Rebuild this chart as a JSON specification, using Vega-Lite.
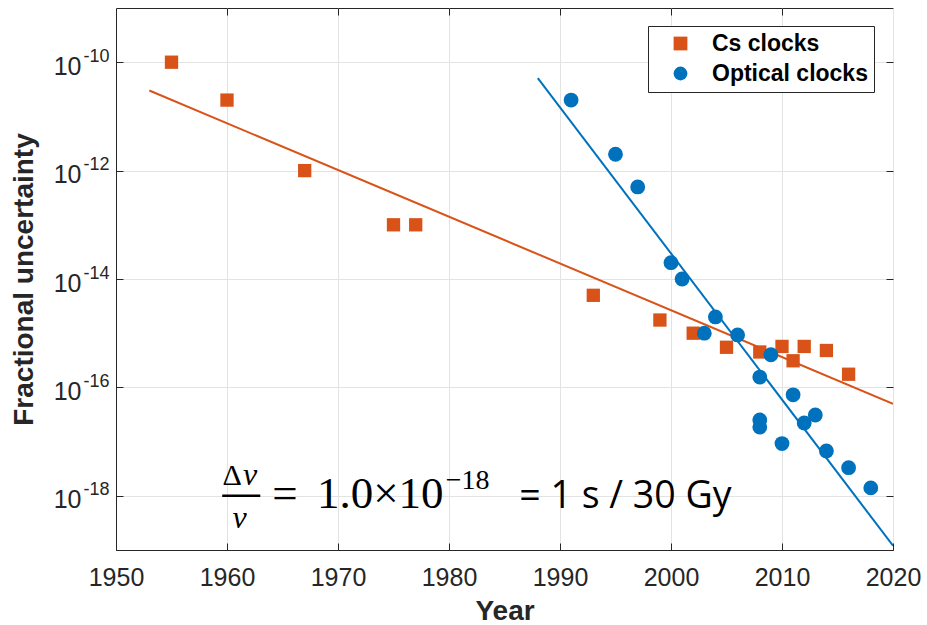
{
  "$schema": "https://vega.github.io/schema/vega-lite/v6.json",
  "width": 777,
  "height": 542,
  "autosize": {"type": "none"},
  "padding": {"left": 116, "top": 8, "right": 34, "bottom": 75},
  "background": "white",
  "config": {
    "view": {"stroke": "#262626", "strokeWidth": 1},
    "font": "Liberation Sans",
    "axis": {
      "labelFont": "Liberation Sans",
      "labelFontSize": 25,
      "labelColor": "#262626",
      "titleFont": "Liberation Sans",
      "titleFontSize": 28,
      "titleFontWeight": "bold",
      "titleColor": "#262626",
      "domainColor": "#262626",
      "domainWidth": 1,
      "tickColor": "#262626",
      "tickWidth": 1,
      "tickSize": -7,
      "gridColor": "#e3e3e3",
      "gridWidth": 1
    },
    "legend": {
      "orient": "none",
      "legendX": 532,
      "legendY": 18,
      "fillColor": "white",
      "strokeColor": "#262626",
      "padding": 6,
      "rowPadding": 6,
      "labelFont": "Liberation Sans",
      "labelFontSize": 23,
      "labelFontWeight": "bold",
      "labelColor": "black",
      "labelLimit": 400,
      "symbolSize": 190,
      "symbolOffset": 15,
      "labelOffset": 20,
      "symbolStrokeWidth": 0
    }
  },
  "datasets": {
    "cs": [
      {"series": "Cs clocks", "year": 1955, "value": 1e-10},
      {"series": "Cs clocks", "year": 1960, "value": 2e-11},
      {"series": "Cs clocks", "year": 1967, "value": 1e-12},
      {"series": "Cs clocks", "year": 1975, "value": 1e-13},
      {"series": "Cs clocks", "year": 1977, "value": 1e-13},
      {"series": "Cs clocks", "year": 1993, "value": 5e-15},
      {"series": "Cs clocks", "year": 1999, "value": 1.75e-15},
      {"series": "Cs clocks", "year": 2002, "value": 1e-15},
      {"series": "Cs clocks", "year": 2005, "value": 5.5e-16},
      {"series": "Cs clocks", "year": 2008, "value": 4.5e-16},
      {"series": "Cs clocks", "year": 2010, "value": 5.7e-16},
      {"series": "Cs clocks", "year": 2011, "value": 3.1e-16},
      {"series": "Cs clocks", "year": 2012, "value": 5.7e-16},
      {"series": "Cs clocks", "year": 2014, "value": 4.8e-16},
      {"series": "Cs clocks", "year": 2016, "value": 1.75e-16}
    ],
    "optical": [
      {"series": "Optical clocks", "year": 1991, "value": 2e-11},
      {"series": "Optical clocks", "year": 1995, "value": 2e-12},
      {"series": "Optical clocks", "year": 1997, "value": 5e-13},
      {"series": "Optical clocks", "year": 2000, "value": 2e-14},
      {"series": "Optical clocks", "year": 2001, "value": 1e-14},
      {"series": "Optical clocks", "year": 2003, "value": 1e-15},
      {"series": "Optical clocks", "year": 2004, "value": 2e-15},
      {"series": "Optical clocks", "year": 2006, "value": 9.3e-16},
      {"series": "Optical clocks", "year": 2008, "value": 1.55e-16},
      {"series": "Optical clocks", "year": 2008, "value": 2.5e-17},
      {"series": "Optical clocks", "year": 2008, "value": 1.85e-17},
      {"series": "Optical clocks", "year": 2009, "value": 4e-16},
      {"series": "Optical clocks", "year": 2010, "value": 9.2e-18},
      {"series": "Optical clocks", "year": 2011, "value": 7.3e-17},
      {"series": "Optical clocks", "year": 2012, "value": 2.2e-17},
      {"series": "Optical clocks", "year": 2013, "value": 3.1e-17},
      {"series": "Optical clocks", "year": 2014, "value": 6.7e-18},
      {"series": "Optical clocks", "year": 2016, "value": 3.3e-18},
      {"series": "Optical clocks", "year": 2018, "value": 1.4e-18}
    ],
    "fits": [
      {"series": "Cs clocks", "year": 1953, "value": 3e-11},
      {"series": "Cs clocks", "year": 2020, "value": 5e-17},
      {"series": "Optical clocks", "year": 1988, "value": 5.1e-11},
      {"series": "Optical clocks", "year": 2020, "value": 1.2e-19}
    ]
  },
  "layer": [
    {
      "encoding": {
        "x": {
          "field": "year",
          "type": "quantitative",
          "scale": {"domain": [1950, 2020], "nice": false, "zero": false},
          "axis": {
            "values": [1950, 1960, 1970, 1980, 1990, 2000, 2010, 2020],
            "format": "d",
            "labelPadding": 22,
            "labelFlush": false,
            "title": "Year",
            "titleX": 388.5,
            "titleY": 61,
            "titleBaseline": "middle",
            "titleAlign": "center"
          }
        },
        "y": {
          "field": "value",
          "type": "quantitative",
          "scale": {"type": "log", "domain": [1e-19, 1e-9], "nice": false},
          "axis": {
            "values": [1e-18, 1e-16, 1e-14, 1e-12, 1e-10],
            "labelExpr": "'10'",
            "labelPadding": 42,
            "labelOffset": 4,
            "labelFlush": false,
            "title": "Fractional uncertainty",
            "titleX": -92,
            "titleY": 271,
            "titleAngle": -90,
            "titleBaseline": "middle",
            "titleAlign": "center"
          }
        }
      },
      "layer": [
        {
          "data": {"name": "fits"},
          "transform": [{"filter": "datum.series === 'Cs clocks'"}],
          "mark": {"type": "line", "color": "#D95319", "strokeWidth": 2, "clip": true}
        },
        {
          "data": {"name": "fits"},
          "transform": [{"filter": "datum.series === 'Optical clocks'"}],
          "mark": {"type": "line", "color": "#0072BD", "strokeWidth": 2, "clip": true}
        },
        {
          "data": {"name": "cs"},
          "mark": {"type": "point", "filled": true, "opacity": 1, "size": 177, "strokeWidth": 0},
          "encoding": {
            "color": {
              "field": "series",
              "type": "nominal",
              "scale": {"domain": ["Cs clocks", "Optical clocks"], "range": ["#D95319", "#0072BD"]},
              "legend": {"title": null}
            },
            "shape": {
              "field": "series",
              "type": "nominal",
              "scale": {"domain": ["Cs clocks", "Optical clocks"], "range": ["square", "circle"]},
              "legend": {"title": null}
            }
          }
        },
        {
          "data": {"name": "optical"},
          "mark": {"type": "point", "filled": true, "opacity": 1, "size": 220, "strokeWidth": 0},
          "encoding": {
            "color": {
              "field": "series",
              "type": "nominal",
              "scale": {"domain": ["Cs clocks", "Optical clocks"], "range": ["#D95319", "#0072BD"]},
              "legend": {"title": null}
            },
            "shape": {
              "field": "series",
              "type": "nominal",
              "scale": {"domain": ["Cs clocks", "Optical clocks"], "range": ["square", "circle"]},
              "legend": {"title": null}
            }
          }
        },
        {
          "data": {"values": [{"year": 1959.57, "year2": 1963.0, "value": 1e-18}]},
          "mark": {"type": "rule", "color": "black", "strokeWidth": 2.5},
          "encoding": {"x2": {"field": "year2"}}
        },
        {
          "data": {"values": [{"year": 1959.6, "value": 1.55e-18, "t": "Δ"}]},
          "mark": {"type": "text", "font": "Liberation Serif", "fontSize": 30, "align": "left", "baseline": "alphabetic", "color": "black"},
          "encoding": {"text": {"field": "t"}}
        },
        {
          "data": {"values": [
            {"year": 1961.45, "value": 1.55e-18, "t": "v"},
            {"year": 1960.5, "value": 2.6e-19, "t": "v"}
          ]},
          "mark": {"type": "text", "font": "Liberation Serif", "fontSize": 32, "fontStyle": "italic", "align": "left", "baseline": "alphabetic", "color": "black"},
          "encoding": {"text": {"field": "t"}}
        },
        {
          "data": {"values": [
            {"year": 1964.07, "value": 5.84e-19, "t": "="},
            {"year": 1968.1, "value": 5.84e-19, "t": "1.0×10"}
          ]},
          "mark": {"type": "text", "font": "Liberation Serif", "fontSize": 45, "align": "left", "baseline": "alphabetic", "color": "black"},
          "encoding": {"text": {"field": "t"}}
        },
        {
          "data": {"values": [{"year": 1979.7, "value": 1.36e-18, "t": "−18"}]},
          "mark": {"type": "text", "font": "Liberation Serif", "fontSize": 28, "align": "left", "baseline": "alphabetic", "color": "black"},
          "encoding": {"text": {"field": "t"}}
        },
        {
          "data": {"values": [{"year": 1986.34, "value": 5.84e-19, "t": "= 1 s / 30 Gy"}]},
          "mark": {"type": "text", "font": "Open Sans", "fontSize": 37.5, "align": "left", "baseline": "alphabetic", "color": "black"},
          "encoding": {"text": {"field": "t"}}
        }
      ]
    },
    {
      "data": {"name": "cs"},
      "mark": {"type": "point", "opacity": 0},
      "encoding": {
        "x": {
          "field": "year",
          "type": "quantitative",
          "scale": {"domain": [1950, 2020], "nice": false, "zero": false},
          "axis": {"orient": "top", "values": [1960, 1970, 1980, 1990, 2000, 2010], "labels": false, "domain": false, "grid": false, "title": null}
        },
        "y": {
          "field": "value",
          "type": "quantitative",
          "scale": {"type": "log", "domain": [1e-19, 1e-9], "nice": false},
          "axis": {"orient": "right", "values": [1e-18, 1e-16, 1e-14, 1e-12, 1e-10], "labels": false, "domain": false, "grid": false, "title": null}
        }
      }
    },
    {
      "data": {"name": "cs"},
      "mark": {"type": "point", "opacity": 0},
      "encoding": {
        "x": {
          "field": "year",
          "type": "quantitative",
          "scale": {"domain": [1950, 2020], "nice": false, "zero": false},
          "axis": null
        },
        "y": {
          "field": "value",
          "type": "quantitative",
          "scale": {"type": "log", "domain": [1e-19, 1e-9], "nice": false},
          "axis": {
            "orient": "left",
            "values": [1e-18, 1e-16, 1e-14, 1e-12, 1e-10],
            "labelExpr": "datum.value < 1e-17 ? '-18' : datum.value < 1e-15 ? '-16' : datum.value < 1e-13 ? '-14' : datum.value < 1e-11 ? '-12' : '-10'",
            "labelFontSize": 18,
            "labelPadding": 14,
            "labelOffset": -6,
            "labelFlush": false,
            "tickOpacity": 0,
            "domain": false,
            "grid": false,
            "title": null
          }
        }
      }
    }
  ],
  "resolve": {"axis": {"x": "independent", "y": "independent"}}
}
